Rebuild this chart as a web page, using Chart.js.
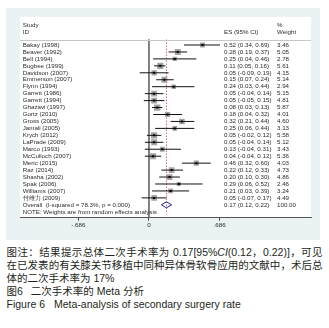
<!DOCTYPE html>
<html><head><meta charset="utf-8">
<script src="https://cdn.jsdelivr.net/npm/chart.js@4/dist/chart.umd.min.js"></script>
<style>
html,body{margin:0;padding:0;background:#fff;width:329px;height:328px;overflow:hidden}
#outer{position:absolute;left:6px;top:8px;width:314px;height:232px;background:#eaf2f3}
#inner{position:absolute;left:20px;top:17px;width:291px;height:201px;background:#fff}
#c{position:absolute;left:0;top:0}
#cap{position:absolute;left:6.5px;top:245.5px;width:316px;font-family:"Liberation Sans","Noto Sans CJK SC",sans-serif;font-size:10.5px;line-height:13.1px;color:#231f20}
#cap div{white-space:nowrap}
#cap .j{text-align:justify;text-align-last:justify}
</style></head>
<body>
<div id="outer"></div><div id="inner"></div>
<canvas id="c" width="329" height="242"></canvas>
<div id="cap">
<div class="j">图注：结果提示总体二次手术率为 0.17[95%<i>CI</i>(0.12，0.22)]，可见</div>
<div class="j">在已发表的有关膝关节移植中同种异体骨软骨应用的文献中，术后总</div>
<div>体的二次手术率为 17%</div>
<div>图6<span style="margin-left:8px"></span>二次手术率的 Meta 分析</div>
<div>Figure 6<span style="margin-left:9px"></span>Meta-analysis of secondary surgery rate</div>
</div>
<script>
const studies = ["Bakay (1998)","Beaver (1992)","Bell (1994)","Bugbee (1999)","Davidson (2007)","Emmerson (2007)","Flynn (1994)","Garrett (1986)","Garrett (1994)","Ghazavi (1997)","Gortz (2010)","Gross (2005)","Jamali (2005)","Krych (2012)","LaPrade (2009)","Marco (1993)","McCulloch (2007)","Meric (2015)","Raz (2014)","Shasha (2002)","Spak (2006)","Williams (2007)","付维力 (2009)"];
const es = [0.52,0.28,0.25,0.11,0.05,0.15,0.24,0.05,0.05,0.08,0.18,0.32,0.25,0.05,0.05,0.13,0.04,0.46,0.22,0.20,0.29,0.21,0.05];
const lo = [0.34,0.19,0.04,0.05,-0.09,0.07,0.03,-0.04,-0.05,0.03,0.04,0.21,0.06,-0.02,-0.04,-0.04,-0.04,0.32,0.12,0.10,0.06,0.03,-0.07];
const hi = [0.69,0.37,0.46,0.16,0.19,0.24,0.44,0.14,0.15,0.13,0.32,0.44,0.44,0.12,0.14,0.31,0.12,0.60,0.33,0.30,0.52,0.39,0.17];
const weights = [3.46,5.05,2.78,5.61,4.15,5.14,2.94,5.15,4.81,5.87,4.01,4.60,3.13,5.58,5.12,3.43,5.36,4.03,4.73,4.86,2.46,3.24,4.49];
const overall = {es:0.17, lo:0.12, hi:0.22, w:100.00};
const overallLabel = "Overall  (I-squared = 78.3%, p = 0.000)";
const noteLabel = "NOTE: Weights are from random effects analysis";
const xTicks = [-0.686, 0, 0.686];
const xTickLabels = ["-.686", "0", ".686"];

const n = studies.length;
const overallRow = n, noteRow = n + 1;
const headerTop = -2.3; // rows above first study used for the header
const f2 = v => v.toFixed(2);

const ciData = [];
for (let i = 0; i < n; i++) { ciData.push({x:lo[i],y:i},{x:hi[i],y:i},{x:NaN,y:NaN}); }
const dh = 0.43;
const diamond = [{x:overall.lo,y:overallRow},{x:overall.es,y:overallRow-dh},{x:overall.hi,y:overallRow},{x:overall.es,y:overallRow+dh},{x:overall.lo,y:overallRow}];
const yMin = -4.03, yMax = 24.85, lineTop = -0.79;

const txt = '#2b2b2b';
const font = '6.2px "Liberation Sans", Arial, sans-serif';

const textPlugin = {
  id:'txt',
  afterDatasetsDraw(chart){
    const ctx = chart.ctx, xs = chart.scales.x, ys = chart.scales.y, ca = chart.chartArea;
    ctx.save();
    ctx.fillStyle = txt; ctx.font = font; ctx.textBaseline = 'middle'; ctx.textAlign = 'left';
    const xL = ca.left + 2.7, xE = ca.left + 204, xW = ca.left + 257;
    ctx.fillText("Study", xL, ys.getPixelForValue(-2.88));
    ctx.fillText("ID", xL, ys.getPixelForValue(-1.87));
    ctx.fillText("ES (95% CI)", xE, ys.getPixelForValue(-1.87));
    ctx.fillText("%", xW, ys.getPixelForValue(-2.88));
    ctx.fillText("Weight", xW, ys.getPixelForValue(-1.87));
    for (let i = 0; i < n; i++) {
      const y = ys.getPixelForValue(i);
      ctx.fillText(studies[i], xL, y);
      ctx.fillText(f2(es[i]) + " (" + f2(lo[i]) + ", " + f2(hi[i]) + ")", xE, y);
      ctx.fillText(f2(weights[i]), xW, y);
    }
    let y = ys.getPixelForValue(overallRow);
    ctx.fillText(overallLabel, xL, y);
    ctx.fillText(f2(overall.es) + " (" + f2(overall.lo) + ", " + f2(overall.hi) + ")", xE, y);
    ctx.fillText(overall.w.toFixed(2), xW, y);
    ctx.fillText(noteLabel, xL, ys.getPixelForValue(noteRow));
    // header separator
    const hy = Math.round(ys.getPixelForValue(lineTop)) + 0.5;
    ctx.strokeStyle = '#c8c8c8'; ctx.lineWidth = 1;
    ctx.beginPath(); ctx.moveTo(ca.left, hy); ctx.lineTo(ca.right, hy); ctx.stroke();
    ctx.restore();
  }
};

new Chart(document.getElementById('c'), {
  type: 'scatter',
  data: { datasets: [
    { type:'line', data:[{x:0,y:lineTop},{x:0,y:yMax}], borderColor:'#707070', borderWidth:1, pointRadius:0, order:9 },
    { type:'line', data:[{x:overall.es,y:lineTop},{x:overall.es,y:noteRow+0.3}], borderColor:'#e0607a', borderWidth:1, borderDash:[1.5,1.5], pointRadius:0, order:8 },
    { type:'scatter', data: es.map((v,i)=>({x:v,y:i})), pointStyle:'rect', backgroundColor:'#a3a3a3', borderWidth:0,
      pointRadius: ctx => 1.85*Math.sqrt(weights[ctx.dataIndex] || 0), order:7 },
    { type:'line', data: ciData, borderColor:'#111', borderWidth:1, pointRadius:0, spanGaps:false, order:6 },
    { type:'scatter', data: es.map((v,i)=>({x:v,y:i})), pointStyle:'rect', backgroundColor:'#000', borderWidth:0, pointRadius:1.4, order:5 },
    { type:'line', data: diamond, borderColor:'#1c2a8c', borderWidth:1, pointRadius:0, tension:0, order:4 }
  ]},
  options: {
    responsive:false, animation:false, devicePixelRatio:1,
    layout:{ padding:{ left:20, right:18, top:17, bottom:0 } },
    plugins:{ legend:{display:false}, tooltip:{enabled:false} },
    scales:{
      x:{ type:'linear', min:-1.252, max:1.573,
          afterBuildTicks: s => { s.ticks = xTicks.map(v=>({value:v})); },
          afterFit: s => { s.height = 24.3; },
          grid:{ drawOnChartArea:false, drawTicks:true, tickLength:3, color:'#444' },
          border:{ display:true, color:'#555', width:1 },
          ticks:{ padding:1, color:txt, font:{ family:'"Liberation Sans", Arial, sans-serif', size:6.2 },
                  callback: (v, i) => xTickLabels[i] }
      },
      y:{ type:'linear', reverse:true, min:yMin, max:yMax, display:false }
    }
  },
  plugins:[textPlugin]
});
</script>
</body></html>
